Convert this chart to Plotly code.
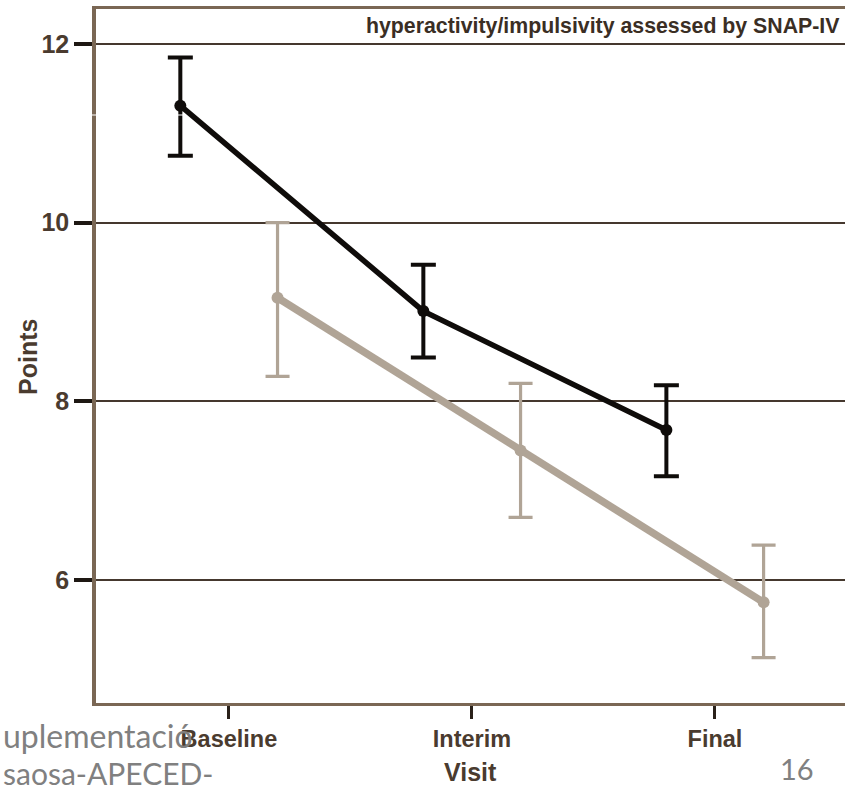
import plotly.graph_objects as go

# Visits on the x axis
visits = ["Baseline", "Interim", "Final"]

# Group 1 (dark line): mean points and error bar limits
dark_mean = [11.31, 9.01, 7.68]
dark_upper = [11.85, 9.53, 8.18]
dark_lower = [10.75, 8.49, 7.16]

# Group 2 (light line): mean points and error bar limits
light_mean = [9.16, 7.45, 5.75]
light_upper = [10.00, 8.20, 6.39]
light_lower = [8.28, 6.70, 5.13]

y_ticks = [6, 8, 10, 12]

W, H = 845, 786
M_L, M_R, M_T, M_B = 96, 0, 9, 83
OFFSET = 0.2  # horizontal dodge of the two groups around each visit

idx = list(range(len(visits)))
dark_x = [i - OFFSET for i in idx]
light_x = [i + OFFSET for i in idx]

DARK = "#0f0c0a"
LIGHT = "#b0a496"
BROWN = "#7a6754"
GRID = "#45382e"
LABEL = "#4a3b2f"
SANS = "Liberation Sans"

fig = go.Figure()

fig.add_trace(go.Scatter(
    x=light_x, y=light_mean, mode="lines+markers",
    line=dict(color=LIGHT, width=7.5),
    marker=dict(color=LIGHT, size=12),
    error_y=dict(type="data", symmetric=False,
                 array=[u - m for u, m in zip(light_upper, light_mean)],
                 arrayminus=[m - l for m, l in zip(light_mean, light_lower)],
                 color=LIGHT, thickness=3.2, width=12),
    showlegend=False, hoverinfo="skip",
))

fig.add_trace(go.Scatter(
    x=dark_x, y=dark_mean, mode="lines+markers",
    line=dict(color=DARK, width=5.5),
    marker=dict(color=DARK, size=12),
    error_y=dict(type="data", symmetric=False,
                 array=[u - m for u, m in zip(dark_upper, dark_mean)],
                 arrayminus=[m - l for m, l in zip(dark_mean, dark_lower)],
                 color=DARK, thickness=4, width=12.5),
    showlegend=False, hoverinfo="skip",
))

fig.update_xaxes(
    range=[-0.547, 2.535],
    tickvals=idx, ticktext=[f"<b>{v}</b>" for v in visits],
    ticks="outside", ticklen=13, tickwidth=3, tickcolor="#2a211a",
    tickfont=dict(family=SANS, size=23.5, color=LABEL),
    ticklabelstandoff=0,
    showline=True, linecolor=BROWN, linewidth=3, mirror=True,
    showgrid=False, zeroline=False,
)

fig.update_yaxes(
    range=[4.623, 12.392],
    tickvals=y_ticks, ticktext=[f"<b>{v}</b>" for v in y_ticks],
    ticks="outside", ticklen=18, tickwidth=3.5, tickcolor="#1e1813",
    tickfont=dict(family=SANS, size=25, color=LABEL),
    showline=True, linecolor=BROWN, linewidth=3.5,
    showgrid=True, gridcolor=GRID, gridwidth=2.3,
    zeroline=False,
)

def px_x(p):
    return (p - M_L) / (W - M_L - M_R)

def px_y(p):
    return (H - M_B - p) / (H - M_T - M_B)

annotations = [
    dict(text="<b>hyperactivity/impulsivity assessed by SNAP-IV</b>",
         x=px_x(842), y=px_y(26), xanchor="right", yanchor="middle",
         font=dict(family=SANS, size=21.3, color="#3a2e24")),
    dict(text="<b>Visit</b>", x=px_x(470), y=px_y(772),
         xanchor="center", yanchor="middle",
         font=dict(family=SANS, size=25, color=LABEL)),
    dict(text="<b>Points</b>", x=px_x(28), y=px_y(357), textangle=-90,
         xanchor="center", yanchor="middle",
         font=dict(family=SANS, size=25, color=LABEL)),
    dict(text="uplementació", x=px_x(1), y=px_y(735),
         xanchor="left", yanchor="middle",
         font=dict(family="Lato", size=32, color="#808080")),
    dict(text="saosa-APECED-", x=px_x(1), y=px_y(773),
         xanchor="left", yanchor="middle",
         font=dict(family="Lato", size=30, color="#808080")),
    dict(text="16", x=px_x(797), y=px_y(768),
         xanchor="center", yanchor="middle",
         font=dict(family="Lato", size=29, color="#808080")),
]
for a in annotations:
    a.update(xref="paper", yref="paper", showarrow=False)

fig.update_layout(
    width=W, height=H,
    margin=dict(l=M_L, r=M_R, t=M_T, b=M_B),
    paper_bgcolor="white", plot_bgcolor="white",
    annotations=annotations,
    shapes=[dict(type="line", xref="paper", yref="paper",
                 x0=px_x(0), x1=px_x(185), y0=px_y(115), y1=px_y(115),
                 line=dict(color="white", width=1.2), layer="above")],
)

fig.write_html("out.html")
